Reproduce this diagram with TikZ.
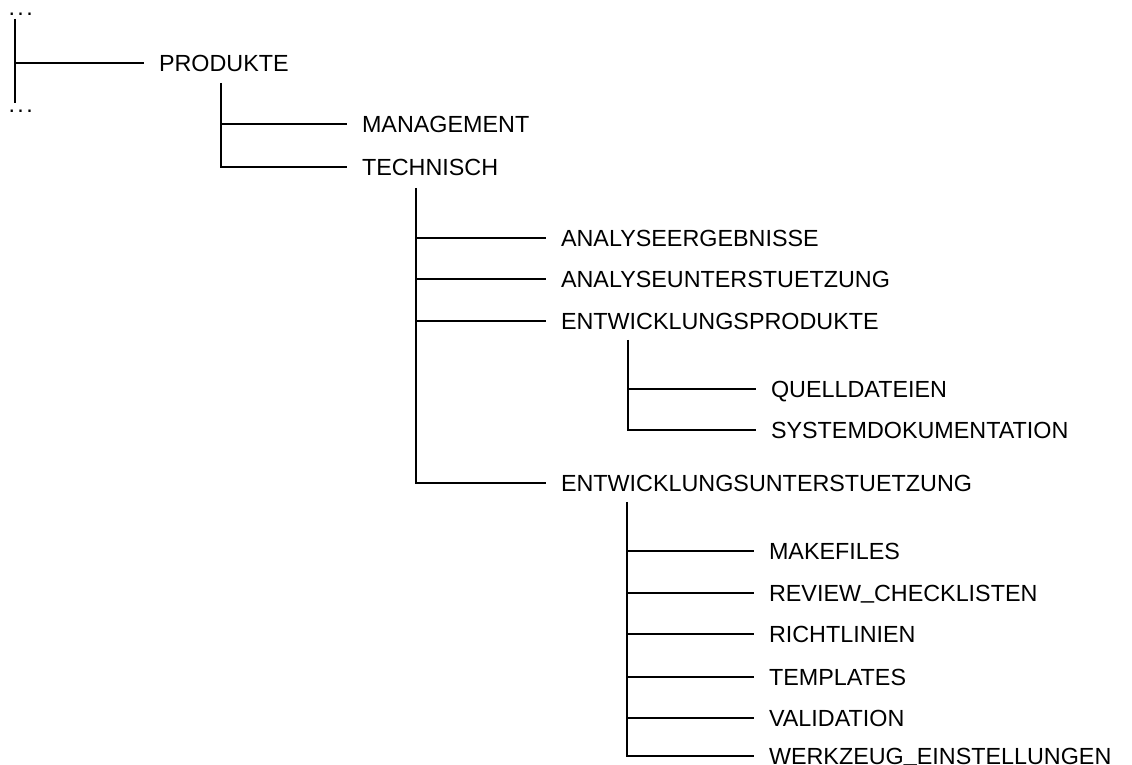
\documentclass[tikz,border=0pt]{standalone}
\usepackage{fontspec}
\setmainfont{Liberation Sans}
\newcommand{\us}{\raisebox{0.12em}{\_}}
\begin{document}
\begin{tikzpicture}[x=0.25mm,y=-0.25mm,line width=0.9pt]
\tikzstyle{every node}+=[inner sep=0pt]
\tikzstyle{dir}=[anchor=west,inner xsep=3.6mm,text height=11.9pt,text depth=0pt,font=\fontsize{16.6}{20}\selectfont]
\tikzstyle{dots}=[anchor=base west,font=\fontsize{16.6}{20}\selectfont]
\useasboundingbox (0,0) rectangle (1132,765);
% root level
\draw (8,15.5) node [dots] (dtop) {.\hspace{0.1em}.\hspace{0.1em}.};
\draw (8,112.5) node [dots] (dbot) {.\hspace{0.1em}.\hspace{0.1em}.};
\coordinate (r0) at (15,19);
\coordinate (r1) at (15,103);
\draw (144,63) node [dir] (prod) {PRODUKTE};
\draw (r0) -- (r1);
\draw (r0 |- prod.west) -- (prod.west);
% PRODUKTE
\coordinate (t1) at (221,83);
\draw (347,124) node [dir] (mgmt) {MANAGEMENT};
\draw (347,167) node [dir] (tech) {TECHNISCH};
\draw (t1 |- mgmt.west) -- (mgmt.west);
\draw (t1) |- (tech.west);
% TECHNISCH
\coordinate (t2) at (416,188);
\draw (546,238) node [dir] (aerg) {ANALYSEERGEBNISSE};
\draw (546,279) node [dir] (aunt) {ANALYSEUNTERSTUETZUNG};
\draw (546,321) node [dir] (eprod) {ENTWICKLUNGSPRODUKTE};
\draw (546,483) node [dir] (eunt) {ENTWICKLUNGSUNTERSTUETZUNG};
\draw (t2 |- aerg.west) -- (aerg.west);
\draw (t2 |- aunt.west) -- (aunt.west);
\draw (t2 |- eprod.west) -- (eprod.west);
\draw (t2) |- (eunt.west);
% ENTWICKLUNGSPRODUKTE
\coordinate (t3) at (628,340);
\draw (756,389) node [dir] (quell) {QUELLDATEIEN};
\draw (756,430) node [dir] (sysdok) {SYSTEMDOKUMENTATION};
\draw (t3 |- quell.west) -- (quell.west);
\draw (t3) |- (sysdok.west);
% ENTWICKLUNGSUNTERSTUETZUNG
\coordinate (t4) at (627,502);
\draw (754,551) node [dir] (make) {MAKEFILES};
\draw (754,593) node [dir] (review) {REVIEW\us CHECKLISTEN};
\draw (754,634) node [dir] (richt) {RICHTLINIEN};
\draw (754,677) node [dir] (templ) {TEMPLATES};
\draw (754,718) node [dir] (valid) {VALIDATION};
\draw (754,756) node [dir] (werkz) {WERKZEUG\us EINSTELLUNGEN};
\foreach \n in {make,review,richt,templ,valid}
  \draw (t4 |- \n.west) -- (\n.west);
\draw (t4) |- (werkz.west);
\end{tikzpicture}
\end{document}
